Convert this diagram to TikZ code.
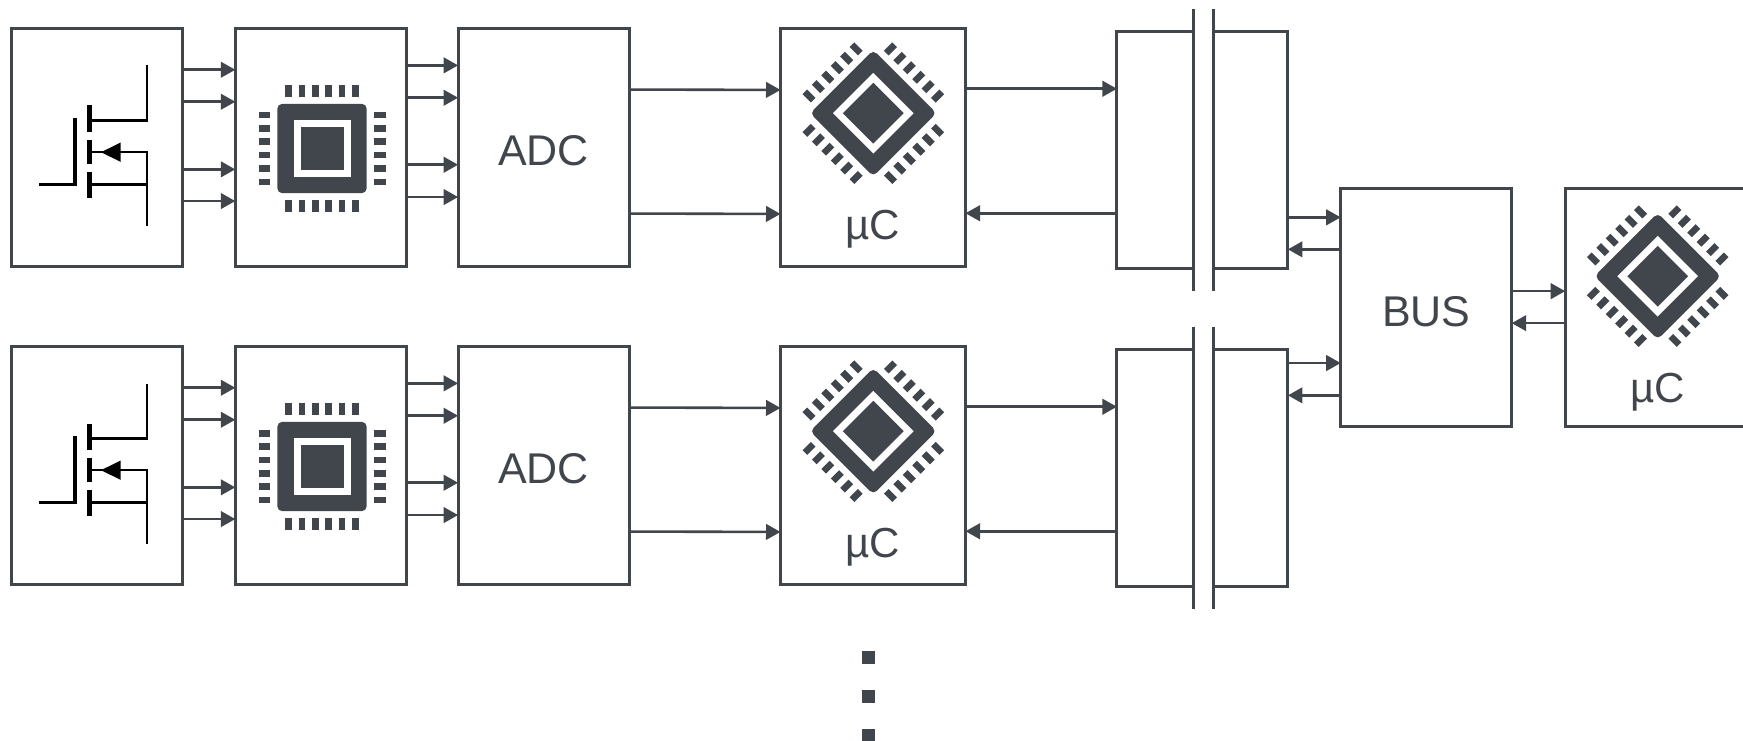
\documentclass[tikz,border=0pt]{standalone}
\usepackage{fontspec}
\setmainfont{Liberation Sans}
\usepackage{tikz}
\definecolor{chipGray}{rgb}{0.25, 0.275, 0.30}
\usetikzlibrary{arrows.meta}
\tikzset{
    block/.style={draw=chipGray, line width=3pt, fill=white, inner sep=0pt, outer sep=0pt,
        minimum width=171pt, minimum height=237.5pt, text=chipGray,
        text height=37pt, text depth=0pt,
        font=\fontsize{43}{50}\selectfont},
    mcublock/.style={block, minimum width=185pt},
    mculabel/.style={anchor=base, inner sep=0pt, text=chipGray, font=\fontsize{42}{48}\selectfont},
    flow/.style={draw=chipGray, line width=2.6pt, -{Triangle[length=14.5pt,width=15.5pt]}},
    isobar/.style={draw=chipGray, line width=3.6pt},
    dotmark/.style={fill=chipGray, inner sep=0pt, minimum size=12.5pt},
    fetline/.style={draw=black, line width=2.2pt},
    chip/.pic={
        \fill[chipGray, rounded corners=5pt] (-44.7,-44.7) rectangle (44.7,44.7);
        \fill[white] (-28.5,-28.5) rectangle (28.5,28.5);
        \fill[chipGray] (-21.5,-21.5) rectangle (21.5,21.5);
        \foreach \pin in {-33.3,-20,-6.7,6.7,20,33.3} {
            \fill[chipGray] (\pin-3.3,-63.5) rectangle (\pin+3.3,-51.7);
            \fill[chipGray] (\pin-3.3, 51.7) rectangle (\pin+3.3, 63.5);
            \fill[chipGray] (-63.5,\pin-3.3) rectangle (-51.7,\pin+3.3);
            \fill[chipGray] ( 51.7,\pin-3.3) rectangle ( 63.5,\pin+3.3);
        }
    },
    mosfet/.pic={
        \draw[fetline] (146.7,65) -- (146.7,120) -- (92,120);
        \draw[fetline] (92,151.7) -- (147.7,151.7);
        \draw[fetline] (146.7,151.7) -- (146.7,225);
        \draw[fetline] (92,184) -- (146.7,184);
        \draw[fetline] (39,184) -- (75.3,184);
        \fill[black] (73.3,117.7) rectangle (77.3,185);
        \fill[black] (86.7,105) rectangle (92.3,131.7);
        \fill[black] (86.7,139.3) rectangle (92.3,163.3);
        \fill[black] (86.7,171.7) rectangle (92.3,197.7);
        \fill[black] (101,151.7) -- (120.7,142) -- (120.7,161.4) -- cycle;
    }
}
\begin{document}
\begin{tikzpicture}[x=1pt, y=-1pt]
    \clip (0,0) rectangle (1743,741);
    \fill[white] (0,0) rectangle (1743,741);

    % top row
    \node[block] (fetA) at ( 96.8, 147.3) {};
    \node[block] (drvA) at (320.8, 147.3) {};
    \node[block] (adcA) at (543.6, 147.3) {ADC};
    \node[mcublock] (mcuA) at (873, 147.5) {};
    \node[block] (isoA) at (1202.4, 150.1) {};

    % bottom row
    \node[block] (fetB) at ( 96.8, 465.3) {};
    \node[block] (drvB) at (320.8, 465.3) {};
    \node[block] (adcB) at (543.6, 465.3) {ADC};
    \node[mcublock] (mcuB) at (873, 465.5) {};
    \node[block] (isoB) at (1202.4, 468.1) {};

    \node[block, text height=38.5pt] (bus) at (1426.2, 307.5) {BUS};
    \node[mcublock] (mcuC) at (1657.7, 307.5) {};

    \pic at (0,0.5) {mosfet};
    \pic at (0,318.5) {mosfet};
    \pic at (322,148.5) {chip};
    \pic at (322,466.5) {chip};
    \pic[rotate=45] at (873.3,113.2) {chip};
    \pic[rotate=45] at (873.3,431.2) {chip};
    \pic[rotate=45] at (1657.7,276.2) {chip};

    \node[mculabel] (labelA) at (873, 239) {µC};
    \node[mculabel] (labelB) at (873, 557) {µC};
    \node[mculabel] (labelC) at (1657.7, 402) {µC};

    % isolation barriers
    \fill[white] ([xshift=-8.9pt,yshift=3pt]isoA.north) rectangle ([xshift=11.2pt,yshift=-3pt]isoA.south);
    \draw[isobar] ([xshift=-8.9pt,yshift=22pt]isoA.north) -- ([xshift=-8.9pt,yshift=-22pt]isoA.south);
    \draw[isobar] ([xshift=11.2pt,yshift=22pt]isoA.north) -- ([xshift=11.2pt,yshift=-22pt]isoA.south);
    \fill[white] ([xshift=-8.9pt,yshift=3pt]isoB.north) rectangle ([xshift=11.2pt,yshift=-3pt]isoB.south);
    \draw[isobar] ([xshift=-8.9pt,yshift=22pt]isoB.north) -- ([xshift=-8.9pt,yshift=-22pt]isoB.south);
    \draw[isobar] ([xshift=11.2pt,yshift=22pt]isoB.north) -- ([xshift=11.2pt,yshift=-22pt]isoB.south);

    \draw[flow] ([yshift=-41.2pt]fetA.north east) -- ([yshift=-41.2pt]drvA.north west);
    \draw[flow] ([yshift=-73.2pt]fetA.north east) -- ([yshift=-73.2pt]drvA.north west);
    \draw[flow] ([yshift=-140.8pt]fetA.north east) -- ([yshift=-140.8pt]drvA.north west);
    \draw[flow] ([yshift=-172.5pt]fetA.north east) -- ([yshift=-172.5pt]drvA.north west);
    \draw[flow] ([yshift=-36.8pt]drvA.north east) -- ([yshift=-36.8pt]adcA.north west);
    \draw[flow] ([yshift=-69.2pt]drvA.north east) -- ([yshift=-69.2pt]adcA.north west);
    \draw[flow] ([yshift=-136.2pt]drvA.north east) -- ([yshift=-136.2pt]adcA.north west);
    \draw[flow] ([yshift=-168.5pt]drvA.north east) -- ([yshift=-168.5pt]adcA.north west);
    \draw[flow] ([yshift=-61pt]adcA.north east) -- ([yshift=-61.2pt]mcuA.north west);
    \draw[flow] ([yshift=-185pt]adcA.north east) -- ([yshift=-185.2pt]mcuA.north west);
    \draw[flow] ([yshift=-60pt]mcuA.north east) -- ([yshift=-57.4pt]isoA.north west);
    \draw[flow] ([yshift=-181.9pt]isoA.north west) -- ([yshift=-184.5pt]mcuA.north east);

    \draw[flow] ([yshift=-41.2pt]fetB.north east) -- ([yshift=-41.2pt]drvB.north west);
    \draw[flow] ([yshift=-73.2pt]fetB.north east) -- ([yshift=-73.2pt]drvB.north west);
    \draw[flow] ([yshift=-140.8pt]fetB.north east) -- ([yshift=-140.8pt]drvB.north west);
    \draw[flow] ([yshift=-172.5pt]fetB.north east) -- ([yshift=-172.5pt]drvB.north west);
    \draw[flow] ([yshift=-36.8pt]drvB.north east) -- ([yshift=-36.8pt]adcB.north west);
    \draw[flow] ([yshift=-69.2pt]drvB.north east) -- ([yshift=-69.2pt]adcB.north west);
    \draw[flow] ([yshift=-136.2pt]drvB.north east) -- ([yshift=-136.2pt]adcB.north west);
    \draw[flow] ([yshift=-168.5pt]drvB.north east) -- ([yshift=-168.5pt]adcB.north west);
    \draw[flow] ([yshift=-61pt]adcB.north east) -- ([yshift=-61.2pt]mcuB.north west);
    \draw[flow] ([yshift=-185pt]adcB.north east) -- ([yshift=-185.2pt]mcuB.north west);
    \draw[flow] ([yshift=-60pt]mcuB.north east) -- ([yshift=-57.4pt]isoB.north west);
    \draw[flow] ([yshift=-181.9pt]isoB.north west) -- ([yshift=-184.5pt]mcuB.north east);

    \draw[flow] ([yshift=-186pt]isoA.north east) -- ([yshift=-28.6pt]bus.north west);
    \draw[flow] ([yshift=-60.6pt]bus.north west) -- ([yshift=-218pt]isoA.north east);
    \draw[flow] ([yshift=-13.7pt]isoB.north east) -- ([yshift=-174.3pt]bus.north west);
    \draw[flow] ([yshift=-206.6pt]bus.north west) -- ([yshift=-46pt]isoB.north east);
    \draw[flow] ([yshift=-102.4pt]bus.north east) -- ([yshift=-102.4pt]mcuC.north west);
    \draw[flow] ([yshift=-134.4pt]mcuC.north west) -- ([yshift=-134.4pt]bus.north east);

    \node[dotmark] (dotA) at (868.3, 657.5) {};
    \node[dotmark] (dotB) at (868.3, 696.5) {};
    \node[dotmark] (dotC) at (868.3, 735.7) {};
\end{tikzpicture}
\end{document}
